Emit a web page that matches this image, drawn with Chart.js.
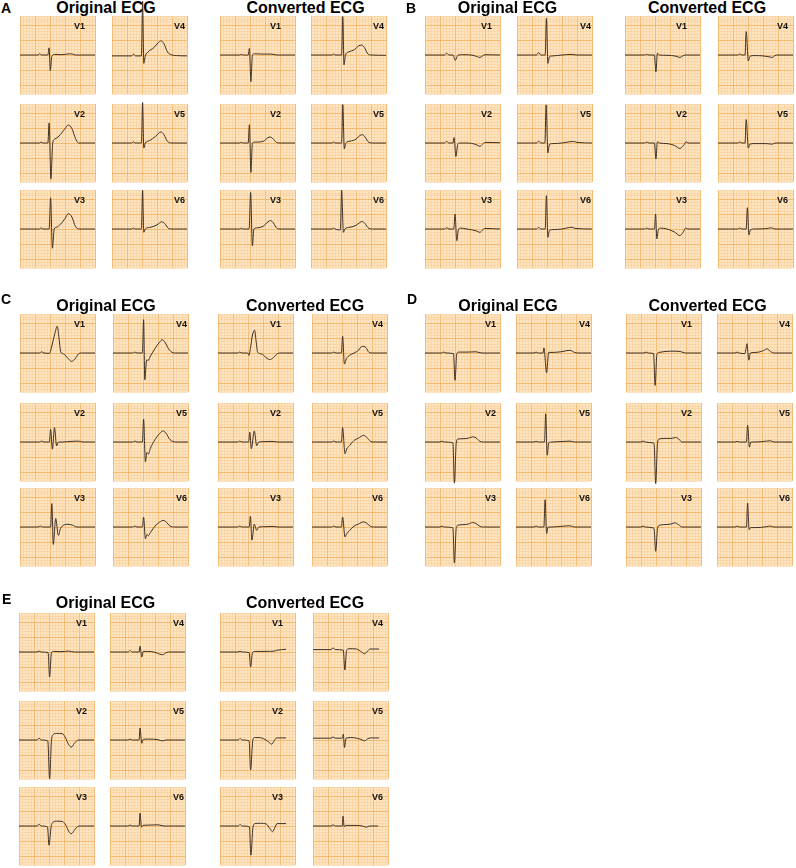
<!DOCTYPE html>
<html>
<head>
<meta charset="utf-8">
<script src="https://cdn.jsdelivr.net/npm/chart.js@4.4.1/dist/chart.umd.min.js"></script>
<style>
  body { margin: 0; background: #fff; width: 796px; height: 868px; position: relative; overflow: hidden;
         font-family: "Liberation Sans", Arial, sans-serif; }
  canvas { position: absolute; }
  .letter { position: absolute; font-weight: bold; font-size: 14px; line-height: 14px; }
  .title { position: absolute; font-weight: bold; font-size: 16px; line-height: 16px; white-space: nowrap;
           transform: translateX(-50%); }
</style>
</head>
<body>
<script>
// ECG traces, [time in small squares, amplitude in small squares]
const LEADS = ["V1", "V2", "V3", "V4", "V5", "V6"];
const GROUP_TITLES = ["Original ECG", "Converted ECG"];
const PANEL_LETTERS = ["A", "B", "C", "D", "E"];

// Panel A
const A_ORIG_V1 = [[0,0],[6,0],[6.5,0.4],[7.2,0],[9.3,0],[9.7,2.4],[10.1,-5.2],[10.6,-0.5],[11.5,0.2],[14,0.1],[16.5,0.4],[17.5,0.3],[18.5,0],[25,0]];
const A_ORIG_V2 = [[0,0],[6.5,0],[7,0.3],[7.6,0],[9.3,0],[9.7,6.7],[10.3,-12],[10.9,0],[11.6,1.3],[13,2.3],[15,4.8],[16.1,6],[17.3,4.8],[18.5,1.5],[19.5,0],[25,0]];
const A_ORIG_V3 = [[0,0],[6.5,0],[7,0.4],[7.6,0],[9.7,0],[10.2,10.4],[10.8,-6.4],[11.4,0],[12.2,0.6],[13.5,1.6],[15,3.5],[16.1,5.1],[17.3,4],[18.5,0.8],[20,0],[25,0]];
const A_ORIG_V4 = [[0,-0.3],[6.5,-0.3],[7.2,0.3],[7.8,-0.3],[9.8,-0.3],[10.2,18],[10.6,-2.8],[11.1,-0.3],[12,1],[14,2.5],[15.5,4.2],[16.3,4.7],[17.3,3.8],[18.5,1],[20,0],[21.5,-0.2],[25,-0.3]];
const A_ORIG_V5 = [[0,0],[6.5,0],[7.1,0.4],[7.7,0],[9.8,0],[10.2,13.5],[10.6,-1.7],[11.1,0],[12.5,0.8],[14.5,2.2],[16.3,3.7],[17.3,2.8],[18.5,0.5],[20,0],[25,0]];
const A_ORIG_V6 = [[0,0],[6.5,0],[7.1,0.3],[7.7,0],[9.8,0],[10.2,12.9],[10.6,-1.1],[11.1,0],[13,0.6],[15,1.4],[16.6,2.4],[17.6,1.8],[18.8,0.2],[20,0],[25,0]];
const A_CONV_V1 = [[0,0],[6.5,0],[7,0.2],[7.6,0],[9.4,0],[9.8,2.2],[10.3,-8.9],[10.8,0],[11.5,0.4],[14,0.3],[17,0.3],[19,0],[25,0]];
const A_CONV_V2 = [[0,0],[6.5,0],[7,0.2],[7.6,0],[9.4,0],[9.8,6.1],[10.3,-9.8],[10.8,0],[12,0.3],[14.5,0.6],[16,1.8],[16.7,2],[17.5,1.6],[18.8,0.2],[20,0],[25,0]];
const A_CONV_V3 = [[0,0],[6.5,0],[7,0.3],[7.6,0],[9.7,0],[10.2,12.2],[10.8,-5.6],[11.3,0],[12.5,0.4],[14.5,1],[16,2.4],[16.9,2.8],[17.8,2],[19,0.2],[20,0],[25,0]];
const A_CONV_V4 = [[0,0],[7,0],[7.5,0.3],[8,0],[10.2,0],[10.6,12.8],[11,-3.3],[11.5,0],[12.5,1],[14.5,1.8],[15.8,3],[16.9,3.3],[17.8,2.5],[19,0.3],[20,0],[25,-0.1]];
const A_CONV_V5 = [[0,0],[7,0],[7.5,0.3],[8,0],[10.2,0],[10.6,12.8],[11.1,-2],[11.6,0],[13,0.6],[15,1.3],[16.3,2.5],[17.1,2.8],[18,2],[19.3,0.2],[20.5,0],[25,0]];
const A_CONV_V6 = [[0,0],[7,0],[7.5,0.3],[8,0],[9.8,-0.3],[10.2,13],[10.8,-1.1],[11.3,0],[13,0.6],[15,1.2],[16.3,2.2],[17.1,2.5],[18,1.8],[19.3,0.2],[20.5,0],[25,0]];

// Panel B
const B_ORIG_V1 = [[0,0],[6.5,0],[7.2,0.6],[8,0],[9.4,0],[9.7,-0.8],[10.1,-1.8],[10.6,-0.7],[11.1,0],[13,0.1],[16,-0.1],[17.5,-0.6],[18.3,-0.8],[19.2,-0.3],[20,0.1],[25,0]];
const B_ORIG_V2 = [[0,0],[6.5,0],[7.2,0.5],[8,0],[9.3,0],[9.7,1.8],[10.3,-4.5],[10.9,-0.5],[11.5,0],[14,0],[17,-0.5],[18.3,-1.1],[19.2,-0.4],[20,0.2],[25,0.1]];
const B_ORIG_V3 = [[0,0],[6.5,0],[7.2,0.4],[8,0],[9.6,0],[10,5],[10.6,-3.9],[11.1,-0.3],[11.8,0.3],[14,0],[17,-0.6],[18.3,-1.1],[19.2,-0.3],[20,0.2],[25,0]];
const B_ORIG_V4 = [[0,0],[6.5,0],[7.2,0.8],[8,0],[9.4,0],[9.8,12.2],[10.3,-2.8],[10.8,-0.6],[12,-0.3],[15,0],[18,0.2],[20,0],[25,0]];
const B_ORIG_V5 = [[0,0],[6.5,0],[7.2,0.6],[8,0],[9.3,0],[9.7,12.7],[10.3,-3.3],[10.8,-0.5],[12,-0.2],[15,0],[17.5,0.4],[18.9,0.5],[20,0.2],[25,0]];
const B_ORIG_V6 = [[0,0],[6.5,0],[7.2,0.5],[8,0],[9.4,0],[9.8,11.1],[10.3,-2.8],[10.8,-0.5],[12,-0.2],[15,0],[17.5,0.5],[18.3,0.6],[19.3,0.2],[25,0]];
const B_CONV_V1 = [[0,0],[6.5,0],[7.2,0.2],[8,0],[9.8,0],[10.3,-5.6],[10.8,0.6],[11.5,0],[14,-0.1],[17,-0.4],[18.3,-0.8],[19.3,-0.3],[20,0],[25,0]];
const B_CONV_V2 = [[0,0],[6.5,0],[7.2,0.3],[8,0],[9.8,0],[10.3,-5.3],[10.8,0.4],[11.5,0],[14,-0.2],[16.5,-0.8],[18.3,-1.8],[19.5,-0.8],[20.4,0.4],[21,0],[25,0]];
const B_CONV_V3 = [[0,0],[6.5,0],[7.2,0.3],[8,0],[9.8,0],[10.2,5],[10.6,-3.3],[11.1,-0.3],[11.8,0.3],[14,0],[16.5,-1],[18.3,-2.2],[19.3,-1.2],[20.2,0.3],[21,0],[25,0]];
const B_CONV_V4 = [[0,0],[6.5,0],[7.2,0.3],[8,0],[9,0],[9.4,7.8],[10.1,-2],[10.6,-0.5],[12,-0.2],[15,-0.3],[17,-0.6],[18.1,-0.8],[19,-0.2],[20,0],[25,0]];
const B_CONV_V5 = [[0,0],[6.5,0],[7.2,0.3],[8,0],[9,0],[9.4,7.8],[10.1,-1.7],[10.6,-0.4],[12,-0.2],[16,-0.2],[18.1,-0.4],[19,0],[25,0]];
const B_CONV_V6 = [[0,0],[6.5,0],[7.2,0.3],[8,0],[9.4,0],[9.8,7.1],[10.3,-2],[10.8,-0.3],[12,0],[16,0.1],[17.8,0.4],[19,0],[25,0]];

// Panel C
const C_ORIG_V1 = [[0,0],[6.5,0],[7.2,0.4],[8,0],[9.9,-0.1],[10.4,1.5],[11.5,6],[12.4,8.9],[13,5],[13.6,0.3],[14.5,-0.3],[16,-1.8],[17.2,-2.8],[18.3,-2],[19.5,-0.3],[20.5,0],[25,0]];
const C_ORIG_V2 = [[0,0],[6.5,0],[7.2,0.3],[8,0],[9.8,0],[10.2,4.2],[10.8,-2.4],[11.5,4.8],[12.2,-1.3],[12.8,0],[14,0],[17,0.2],[19.5,0.3],[21,0],[25,0]];
const C_ORIG_V3 = [[0,0],[6,0],[6.8,0.3],[7.5,0],[10.2,0],[10.6,7.8],[11.1,-5.8],[11.9,2.8],[12.8,-2.8],[13.5,-0.5],[14.5,0.6],[16,0.9],[17.5,0.6],[19,0],[25,0]];
const C_ORIG_V4 = [[0,0],[6.5,0],[7.2,0.3],[8,0],[9.8,0],[10.2,11.1],[10.6,-8.9],[11.2,-2.3],[11.7,-2.5],[12.5,-1],[14,1.5],[15.5,3.6],[16.4,4.4],[17.3,3.6],[18.8,1],[20.5,0],[25,0]];
const C_ORIG_V5 = [[0,0],[6.5,0],[7.2,0.3],[8,0],[9.8,0],[10.2,7.6],[10.8,-6.6],[11.3,-3.5],[11.8,-4],[12.5,-2],[14,0.8],[15.5,2.8],[16.7,3.7],[17.6,3],[19,0.8],[21,0],[25,0]];
const C_ORIG_V6 = [[0,0],[6.5,0],[7.2,0.3],[8,0],[9.8,0],[10.2,3.3],[10.8,-3.9],[11.3,-2.5],[11.8,-2.9],[12.5,-1.8],[14,0.3],[15.5,1.6],[16.7,2.2],[17.6,1.8],[19,0.3],[20.5,0],[25,0]];
const C_CONV_V1 = [[0,0],[6.5,0],[7.2,0.3],[8,0],[9.9,0],[10.3,-0.8],[10.8,1.5],[11.5,6],[12.2,7.6],[12.7,4],[13.2,0.3],[14.5,-0.3],[16,-1.5],[17.2,-2.2],[18.5,-1.5],[19.8,-0.2],[21,0],[25,0]];
const C_CONV_V2 = [[0,0],[6.5,0],[7.2,0.3],[8,0],[10.2,0],[10.6,3.3],[11.1,-2.2],[12.1,3.7],[12.9,-1.2],[13.6,0],[15,0.1],[18,0.2],[20,0],[25,0]];
const C_CONV_V3 = [[0,0],[6.5,0],[7.2,0.3],[8,0],[10.4,0],[10.8,3.6],[11.3,-4.4],[12.1,0.9],[12.9,-1.1],[13.6,0],[16,0.1],[18,0.2],[20,0],[25,0]];
const C_CONV_V4 = [[0,0],[6.5,0],[7.2,0.3],[8,0],[9.8,0],[10.2,5.6],[10.8,-3.7],[11.5,-1.8],[12.5,-0.8],[14,0],[15.6,1],[16.2,1.9],[17.3,2.2],[18,1.8],[19,0.2],[20,0],[25,0]];
const C_CONV_V5 = [[0,0],[6.5,0],[7.2,0.3],[8,0],[9.8,0],[10.2,4.8],[11,-3.9],[11.6,-2.3],[12.5,-1.2],[14,0.5],[15.5,1.3],[17.2,2.2],[18.2,1.6],[19.5,0.2],[20.5,0],[25,0]];
const C_CONV_V6 = [[0,0],[6.5,0],[7.2,0.3],[8,0],[9.8,0],[10.2,3.3],[11,-3.3],[11.6,-2.2],[12.5,-1.2],[14,0.3],[15.5,1],[17.2,1.7],[18.2,1.3],[19.5,0.2],[20.5,0],[25,0]];

// Panel D
const D_ORIG_V1 = [[0,0],[5.5,0],[6.2,0.3],[7,0],[9.5,-0.2],[10,-9.1],[10.6,-0.2],[11.2,0.3],[14,0.3],[17,0.4],[19,0],[25,0]];
const D_ORIG_V2 = [[0,0],[5,0],[5.7,0.3],[6.4,0],[9.3,-0.3],[9.8,-13.7],[10.4,-0.5],[11,1],[13,1.1],[14.5,1.3],[15.9,1.7],[17,1.4],[18.3,0.2],[19.5,0],[25,0]];
const D_ORIG_V3 = [[0,0],[5,0],[5.7,0.3],[6.4,0],[9.3,-0.3],[9.8,-12],[10.4,-0.5],[11,0.6],[13,0.8],[14.5,1],[15.9,1.5],[17,1.2],[18.3,0.2],[19.5,0],[25,0]];
const D_ORIG_V4 = [[0,0],[6,0],[6.7,0.3],[7.4,0],[9,0],[9.3,1.7],[10.2,-6.6],[10.9,0.2],[12,0.2],[15,0.4],[17,0.8],[18,0.9],[19.5,0.2],[21,0],[25,0]];
const D_ORIG_V5 = [[0,0],[6,0],[6.7,0.2],[7.4,0],[9.5,0],[9.9,9.4],[10.4,-4.4],[10.9,-0.3],[12,0],[16,0.2],[18,0.3],[19.5,0],[25,0]];
const D_ORIG_V6 = [[0,0],[6,0],[6.7,0.3],[7.4,0],[9.3,0],[9.7,9.1],[10.2,-2.2],[10.7,0],[12,0],[16,0.3],[18,0.4],[19.5,0],[25,0]];
const D_CONV_V1 = [[0,0],[6,0],[6.7,0.3],[7.4,0],[9.2,-0.2],[9.7,-10.8],[10.3,-0.5],[11,0.2],[13,0.5],[16,0.6],[18,0.5],[20,0],[25,0]];
const D_CONV_V2 = [[0,0],[5,0],[5.7,0.3],[6.4,0],[9.1,-0.3],[9.4,-0.9],[9.9,-13.9],[10.5,-0.5],[11,1],[13,1.2],[15,1.2],[16.6,1.5],[17.6,1],[18.6,0],[25,0]];
const D_CONV_V3 = [[0,0],[5,0],[5.7,0.3],[6.4,0],[9.1,-0.3],[9.4,-0.9],[9.9,-8.1],[10.5,-0.5],[11,0.5],[13,0.8],[15,1],[16.3,1.4],[17.5,0.8],[18.6,0],[25,0]];
const D_CONV_V4 = [[0,0],[6,0],[6.7,0.3],[7.4,0],[9.3,-0.2],[9.6,1],[10,3.1],[10.6,-2.4],[11.1,0],[13,0.2],[15.5,0.8],[16.7,1.4],[17.8,0.5],[19,0],[25,0]];
const D_CONV_V5 = [[0,0],[6,0],[6.7,0.2],[7.4,0],[9.8,0],[10.2,5.6],[10.8,-1.7],[11.3,0],[13,0],[16.5,0.3],[17.8,0.4],[19,0],[25,0]];
const D_CONV_V6 = [[0,0],[6,0],[6.7,0.3],[7.4,0],[9.8,0],[10.2,8],[10.7,-0.9],[11.2,-0.2],[13,-0.2],[16.5,0.1],[17.8,0.3],[19,0],[25,0]];

// Panel E
const E_ORIG_V1 = [[0,0],[6,0],[6.7,0.3],[7.4,0],[9.7,-0.2],[10.2,-8.3],[10.8,-0.3],[11.5,0.2],[14,0.1],[16.5,0.3],[18.5,0],[25,0]];
const E_ORIG_V2 = [[0,0],[6,0],[6.7,0.6],[7.4,0],[9.6,-0.3],[10.2,-13],[10.8,-0.5],[11.4,1.8],[12.5,2.2],[14.5,2.1],[15.6,0.5],[16.6,-1.6],[17.4,-2.4],[18.4,-1.2],[19.5,-0.1],[20.5,0],[25,0]];
const E_ORIG_V3 = [[0,0],[6,0],[6.7,0.6],[7.4,0],[9.5,-0.3],[10,-6.4],[10.7,-0.3],[11.4,1.3],[12.5,1.6],[14.5,1.5],[15.6,0.3],[16.6,-1.8],[17.4,-2.6],[18.4,-1.5],[19.5,-0.2],[20.5,0],[25,0]];
const E_ORIG_V4 = [[0,0],[6,0],[6.7,0.5],[7.4,0],[9.7,0],[10,1.9],[10.6,-1.7],[11.1,0.2],[12.5,0.2],[15,-0.1],[16.5,-0.7],[17.6,-0.9],[18.6,-0.3],[19.5,0],[25,0]];
const E_ORIG_V5 = [[0,0],[6,0],[6.7,0.3],[7.4,0],[9.7,0],[10,4],[10.6,-1.1],[11.1,0.2],[13,0.3],[16,0.1],[17.6,-0.3],[18.6,0],[25,0]];
const E_ORIG_V6 = [[0,0],[6,0],[6.7,0.3],[7.4,0],[9.7,0],[10,4.3],[10.5,-0.4],[11,0.2],[13,0.3],[16,0.4],[18,0],[25,0]];
const E_CONV_V1 = [[0,0],[6,0],[6.7,0.2],[7.4,0],[9.7,-0.2],[10.2,-5],[10.8,-0.3],[11.5,0.2],[15,0.2],[18,0.3],[19,0.6],[22,0.9]];
const E_CONV_V2 = [[0,0],[6,0],[6.7,0.5],[7.4,0],[9.7,-0.3],[10.2,-10],[10.9,-0.3],[11.5,0.8],[13,0.8],[15,0.2],[16.4,-0.8],[17.2,-1.4],[18.1,-0.2],[18.9,0.7],[22,0.7]];
const E_CONV_V3 = [[0,0],[6,0],[6.7,0.5],[7.4,0],[9.8,-0.3],[10.3,-9.7],[11,-0.3],[11.7,0.8],[13.5,0.9],[15.5,0.6],[16.6,-0.8],[17.5,-1.9],[18.4,-0.3],[19,0.8],[22,0.8]];
const E_CONV_V4 = [[0,0.8],[6,0.8],[6.7,1.4],[7.4,0.8],[10.1,0.6],[10.6,-6],[11.2,0.5],[12,1.1],[14.5,1],[16.2,0],[17.2,-0.6],[18.2,0.3],[19,1],[22,1]];
const E_CONV_V5 = [[0,0.6],[6,0.6],[6.7,1],[7.4,0.6],[9.8,0.6],[10.1,1.9],[10.5,-2.5],[11,0.6],[13,0.8],[16,0.2],[17.2,-0.3],[18.2,0.4],[19.2,0.7],[22,0.7]];
const E_CONV_V6 = [[0,0],[6,0],[6.7,0.4],[7.4,0],[9.8,0],[10,3.3],[10.4,-0.2],[11,0.2],[14,0.2],[16.5,0],[17.8,-0.4],[18.8,0],[21.7,0]];

const TRACES = {
  A: [[A_ORIG_V1, A_ORIG_V2, A_ORIG_V3, A_ORIG_V4, A_ORIG_V5, A_ORIG_V6], [A_CONV_V1, A_CONV_V2, A_CONV_V3, A_CONV_V4, A_CONV_V5, A_CONV_V6]],
  B: [[B_ORIG_V1, B_ORIG_V2, B_ORIG_V3, B_ORIG_V4, B_ORIG_V5, B_ORIG_V6], [B_CONV_V1, B_CONV_V2, B_CONV_V3, B_CONV_V4, B_CONV_V5, B_CONV_V6]],
  C: [[C_ORIG_V1, C_ORIG_V2, C_ORIG_V3, C_ORIG_V4, C_ORIG_V5, C_ORIG_V6], [C_CONV_V1, C_CONV_V2, C_CONV_V3, C_CONV_V4, C_CONV_V5, C_CONV_V6]],
  D: [[D_ORIG_V1, D_ORIG_V2, D_ORIG_V3, D_ORIG_V4, D_ORIG_V5, D_ORIG_V6], [D_CONV_V1, D_CONV_V2, D_CONV_V3, D_CONV_V4, D_CONV_V5, D_CONV_V6]],
  E: [[E_ORIG_V1, E_ORIG_V2, E_ORIG_V3, E_ORIG_V4, E_ORIG_V5, E_ORIG_V6], [E_CONV_V1, E_CONV_V2, E_CONV_V3, E_CONV_V4, E_CONV_V5, E_CONV_V6]]
};

// page layout (pixels)
const LAYOUT = {
  A: { letter: [1, 1], titleY: 0, titles: [106, 305.5], cols: [20, 112, 220, 311], rows: [16, 104, 190], insets: [[10, 2], [14, 2]] },
  B: { letter: [406, 1], titleY: 0, titles: [507.5, 707], cols: [425, 517, 625, 718], rows: [16, 104, 190], insets: [[8, 1], [13, 5]] },
  C: { letter: [1, 292], titleY: 298, titles: [106, 305], cols: [20, 113, 218, 312], rows: [314, 403, 488], insets: [[10, 1], [12, 4]] },
  D: { letter: [407, 292], titleY: 298, titles: [508, 707.5], cols: [425, 516, 626, 717], rows: [314, 403, 488], insets: [[4, 1], [9, 2]] },
  E: { letter: [2, 592], titleY: 595, titles: [105.5, 305], cols: [19, 110, 220, 313], rows: [613, 701, 787], insets: [[7, 1], [12, 5]] }
};

const CW = 75, CH = 78, PAD = 22;
const PAPER = "#fde5c4";
const MINOR = "#f8cf98";
const MAJOR = "#f3b466";
const TRACE = "#3d3127";

const ecgPaper = {
  id: "ecgPaper",
  beforeDraw(chart) {
    const a = chart.chartArea, ctx = chart.ctx;
    ctx.save();
    ctx.fillStyle = PAPER;
    ctx.fillRect(a.left, a.top, a.width, a.height);
    ctx.restore();
  },
  afterDatasetsDraw(chart, args, opts) {
    const a = chart.chartArea, ctx = chart.ctx;
    ctx.save();
    ctx.font = 'bold 9px "Liberation Sans", Arial, sans-serif';
    ctx.textAlign = "right";
    ctx.fillStyle = "#111";
    ctx.fillText(opts.lead, a.right - opts.inset, a.top + 13);
    ctx.restore();
  }
};

function gridColor(c) { return c.tick && c.tick.value % 5 === 0 ? MAJOR : MINOR; }
function gridWidth(c) { return c.tick && c.tick.value % 5 === 0 ? 0.9 : 0.6; }

function paperAxis(min, max) {
  return {
    type: "linear", min, max,
    ticks: { display: false, stepSize: 1, maxTicksLimit: 100 },
    grid: { drawTicks: false, color: gridColor, lineWidth: gridWidth },
    border: { display: false }
  };
}

function drawLead(x, y, points, lead, inset) {
  const canvas = document.createElement("canvas");
  canvas.width = CW + 2 * PAD;
  canvas.height = CH + 2 * PAD;
  canvas.style.left = (x - PAD) + "px";
  canvas.style.top = (y - PAD) + "px";
  document.body.appendChild(canvas);

  new Chart(canvas, {
    type: "line",
    data: {
      datasets: [{
        data: points, borderColor: TRACE, borderWidth: 1, pointRadius: 0,
        cubicInterpolationMode: "monotone", clip: false
      }]
    },
    options: {
      responsive: false, animation: false, events: [], devicePixelRatio: 1,
      layout: { padding: PAD },
      plugins: { legend: { display: false }, tooltip: { enabled: false }, ecgPaper: { lead, inset } },
      scales: { x: paperAxis(0, 25), y: paperAxis(-13, 13) }
    },
    plugins: [ecgPaper]
  });
}

function addText(cls, text, left, top) {
  const d = document.createElement("div");
  d.className = cls;
  d.textContent = text;
  d.style.left = left + "px";
  d.style.top = top + "px";
  document.body.appendChild(d);
}

PANEL_LETTERS.forEach((p) => {
  const L = LAYOUT[p];
  addText("letter", p, L.letter[0], L.letter[1]);
  GROUP_TITLES.forEach((t, g) => {
    addText("title", t, L.titles[g], L.titleY);
    LEADS.forEach((lead, i) => {
      const col = Math.floor(i / 3), row = i % 3;
      drawLead(L.cols[g * 2 + col], L.rows[row], TRACES[p][g][i], lead, L.insets[g][col]);
    });
  });
});
</script>
</body>
</html>
